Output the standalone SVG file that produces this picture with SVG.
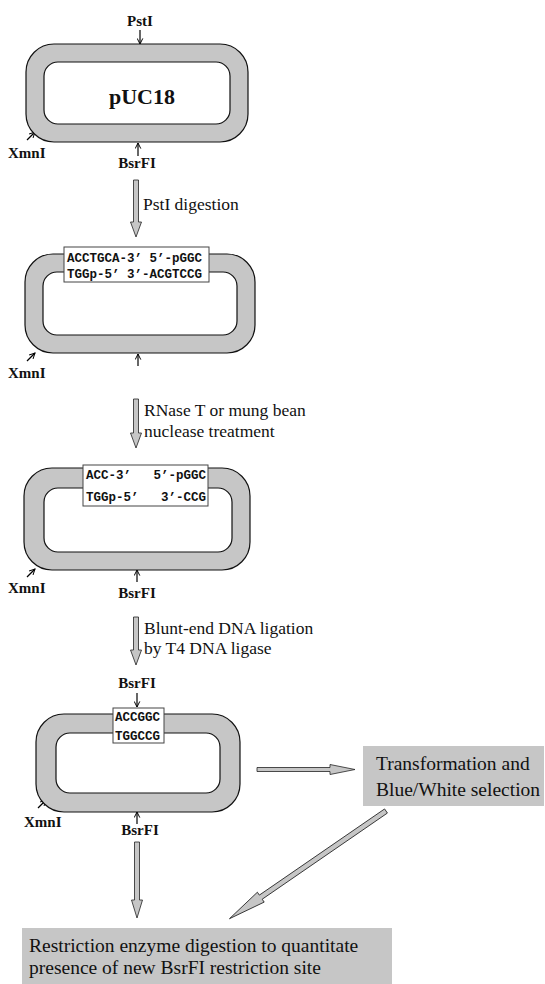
<svg xmlns="http://www.w3.org/2000/svg" width="545" height="984" viewBox="0 0 545 984">
<defs>
<marker id="v" viewBox="0 0 10 10" refX="9" refY="5" markerWidth="7" markerHeight="7" orient="auto" markerUnits="userSpaceOnUse">
<path d="M1,1 L9,5 L1,9" fill="none" stroke="#000" stroke-width="1.4"/>
</marker>
<style>
.ring{fill:#c6c6c6;fill-rule:evenodd;stroke:#111;stroke-width:1.2}
.site{font-family:"Liberation Serif",serif;font-weight:bold;font-size:15px;fill:#111}
.seq{font-family:"Liberation Mono",monospace;font-weight:bold;font-size:12.5px;fill:#111;white-space:pre}
.sbox{fill:#fff;stroke:#444;stroke-width:1}
.lbl{font-family:"Liberation Serif",serif;font-size:17.5px;fill:#111}
.big{font-family:"Liberation Serif",serif;font-size:19.5px;fill:#111}
.blk{fill:#c6c6c6;stroke:#222;stroke-width:0.8}
.thin{stroke:#000;stroke-width:1.2;fill:none;marker-end:url(#v)}
.shade{fill:#c6c6c6}
</style>
</defs>
<rect width="545" height="984" fill="#fff"/>

<g id="connectors">
<path class="blk" d="M133.5,180 H138.5 V222 H141.5 L136,237 L130.5,222 H133.5 Z"/>
<path class="blk" d="M133.5,399 H138.5 V433 H141.5 L136,448 L130.5,433 H133.5 Z"/>
<path class="blk" d="M133.5,617 H138.5 V650 H141.5 L136,665 L130.5,650 H133.5 Z"/>
<path class="blk" d="M134.5,842 H139.5 V900 H142.5 L137,918 L131.5,900 H134.5 Z"/>
<path class="blk" d="M257,767.5 H330 V764.5 L355,769.5 L330,774.5 V771.5 H257 Z"/>
<path class="blk" transform="translate(386,811) rotate(145.47)" d="M0,-2.5 H152 V-6 L190,0 L152,6 V2.5 H0 Z"/>
<line class="thin" x1="140" y1="30" x2="140" y2="44"/>
<line class="thin" x1="138" y1="156" x2="138" y2="143"/>
<line class="thin" x1="27" y1="140" x2="35" y2="132"/>
<line class="thin" x1="138" y1="366" x2="138" y2="354"/>
<line class="thin" x1="27" y1="361" x2="35" y2="353"/>
<line class="thin" x1="137" y1="582" x2="137" y2="570"/>
<line class="thin" x1="27" y1="577" x2="35" y2="569"/>
<line class="thin" x1="137" y1="693" x2="137" y2="707"/>
<line class="thin" x1="137" y1="824" x2="137" y2="812"/>
<line class="thin" x1="38" y1="808" x2="46" y2="800"/>
</g>

<g id="label-pst">
<text class="lbl" x="143" y="210">PstI digestion</text>
</g>
<g id="label-rnase">
<text class="lbl" x="144" y="416">RNase T or mung bean</text>
<text class="lbl" x="144" y="437">nuclease treatment</text>
</g>
<g id="label-ligation">
<text class="lbl" x="144" y="634">Blunt-end DNA ligation</text>
<text class="lbl" x="144" y="654">by T4 DNA ligase</text>
</g>

<g id="plasmid1">
<path class="ring" d="M54,44 H220 A28,28 0 0 1 248,72 V114 A28,28 0 0 1 220,142 H54 A28,28 0 0 1 26,114 V72 A28,28 0 0 1 54,44 Z M58,62 H216 A14,14 0 0 1 230,76 V110 A14,14 0 0 1 216,124 H58 A14,14 0 0 1 44,110 V76 A14,14 0 0 1 58,62 Z"/>
<text x="142" y="104" text-anchor="middle" style="font-family:'Liberation Serif',serif;font-weight:bold;font-size:22px;fill:#111">pUC18</text>
<text class="site" x="140" y="26" text-anchor="middle">PstI</text>
<text class="site" x="8" y="158">XmnI</text>
<text class="site" x="137" y="168" text-anchor="middle">BsrFI</text>
</g>

<g id="plasmid2">
<path class="ring" d="M53,254 H227 A28,28 0 0 1 255,282 V325 A28,28 0 0 1 227,353 H53 A28,28 0 0 1 25,325 V282 A28,28 0 0 1 53,254 Z M57,272 H223 A14,14 0 0 1 237,286 V321 A14,14 0 0 1 223,335 H57 A14,14 0 0 1 43,321 V286 A14,14 0 0 1 57,272 Z"/>
<rect class="sbox" x="64" y="247" width="145" height="35"/>
<text class="seq" x="67" y="262">ACCTGCA-3’ 5’-pGGC</text>
<text class="seq" x="67" y="278">TGGp-5’ 3’-ACGTCCG</text>
<text class="site" x="8" y="378">XmnI</text>
</g>

<g id="plasmid3">
<path class="ring" d="M52,468 H222 A28,28 0 0 1 250,496 V542 A28,28 0 0 1 222,570 H52 A28,28 0 0 1 24,542 V496 A28,28 0 0 1 52,468 Z M58,488 H218 A14,14 0 0 1 232,502 V538 A14,14 0 0 1 218,552 H58 A14,14 0 0 1 44,538 V502 A14,14 0 0 1 58,488 Z"/>
<rect class="sbox" x="83" y="465" width="125" height="41"/>
<text class="seq" x="86" y="479" xml:space="preserve">ACC-3’   5’-pGGC</text>
<text class="seq" x="86" y="501" xml:space="preserve">TGGp-5’   3’-CCG</text>
<text class="site" x="8" y="593">XmnI</text>
<text class="site" x="137" y="598" text-anchor="middle">BsrFI</text>
</g>

<g id="plasmid4">
<path class="ring" d="M64,714 H212 A28,28 0 0 1 240,742 V784 A28,28 0 0 1 212,812 H64 A28,28 0 0 1 36,784 V742 A28,28 0 0 1 64,714 Z M70,733 H206 A14,14 0 0 1 220,747 V779 A14,14 0 0 1 206,793 H70 A14,14 0 0 1 56,779 V747 A14,14 0 0 1 70,733 Z"/>
<rect class="sbox" x="113" y="708" width="51" height="35"/>
<text class="seq" x="115" y="721">ACCGGC</text>
<text class="seq" x="115" y="740">TGGCCG</text>
<text class="site" x="137" y="688" text-anchor="middle">BsrFI</text>
<text class="site" x="24" y="827">XmnI</text>
<text class="site" x="140" y="835" text-anchor="middle">BsrFI</text>
</g>

<g id="transform-box">
<rect class="shade" x="363" y="746" width="181" height="60"/>
<text class="big" x="376" y="770">Transformation and</text>
<text class="big" x="376" y="796">Blue/White selection</text>
</g>

<g id="digest-box">
<rect class="shade" x="22" y="928" width="370" height="56"/>
<text class="big" x="29" y="952">Restriction enzyme digestion to quantitate</text>
<text class="big" x="29" y="974">presence of new BsrFI restriction site</text>
</g>
</svg>
